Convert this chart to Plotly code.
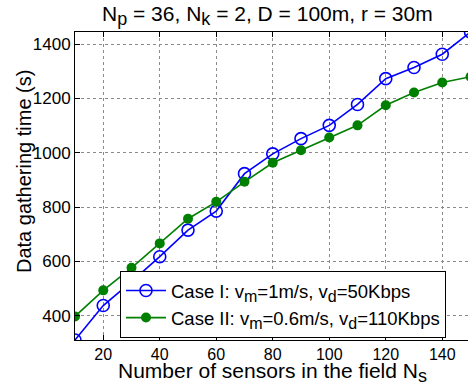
import plotly.graph_objects as go

# Number of sensors in the field
n_sensors = [10, 20, 30, 40, 50, 60, 70, 80, 90, 100, 110, 120, 130, 140, 150]

# Data gathering time (s)
case1_time = [310, 437, 525, 617, 715, 785, 923, 996, 1052, 1101, 1178, 1273, 1314, 1363, 1445]
case2_time = [397, 493, 576, 666, 757, 819, 893, 963, 1009, 1056, 1101, 1175, 1222, 1259, 1280]

x_ticks = [20, 40, 60, 80, 100, 120, 140]
y_ticks = [400, 600, 800, 1000, 1200, 1400]

FONT = "Liberation Sans, Arial, Helvetica, sans-serif"
W, H = 468, 389
ML, MR, MT, MB = 75, 0, 32, 49
PW = W - ML - MR
PH = H - MT - MB
PX_PER_UNIT = 2.825  # horizontal pixels per sensor


def sub(s, size=16):
    return f'<sub><span style="font-size:{size}px">{s}</span></sub>'


case1_name = f"Case I: v{sub('m')}=1m/s, v{sub('d')}=50Kbps"
case2_name = f"Case II: v{sub('m')}=0.6m/s, v{sub('d')}=110Kbps"


def px_x(px):
    return (px - ML) / PW


def px_y(py):
    return (H - MB - py) / PH


fig = go.Figure()
fig.add_trace(go.Scatter(
    x=n_sensors, y=case1_time, name=case1_name, mode="lines+markers",
    line=dict(color="#0000ff", width=1.6),
    marker=dict(symbol="circle-open", size=12, color="#0000ff", line=dict(width=1.6)),
    cliponaxis=True,
))
fig.add_trace(go.Scatter(
    x=n_sensors, y=case2_time, name=case2_name, mode="lines+markers",
    line=dict(color="#008000", width=1.6),
    marker=dict(symbol="circle", size=10, color="#008000"),
    cliponaxis=True,
))

axis_common = dict(
    showline=True, linecolor="black", linewidth=1,
    ticks="inside", ticklen=5, tickcolor="black",
    showgrid=True, gridcolor="#8a8a8a", griddash="dot", gridwidth=1,
    zeroline=False,
)

fig.update_xaxes(
    range=[n_sensors[0], n_sensors[0] + PW / PX_PER_UNIT],
    tickvals=x_ticks, mirror="ticks",
    tickfont=dict(family=FONT, size=16, color="black"),
    **axis_common,
)
fig.update_yaxes(
    range=[min(case1_time), max(case1_time)],
    tickvals=y_ticks, mirror=False,
    tickfont=dict(family=FONT, size=17, color="black"),
    **axis_common,
)

fig.add_annotation(
    text=f"N{sub('p', 18)} = 36, N{sub('k', 18)} = 2, D = 100m, r = 30m",
    xref="paper", yref="paper", x=px_x(267), y=px_y(16),
    xanchor="center", yanchor="middle", showarrow=False,
    font=dict(family=FONT, size=21, color="black"),
)
fig.add_annotation(
    text=f"Number of sensors in the field N{sub('s', 18)}",
    xref="paper", yref="paper", x=px_x(272), y=px_y(372),
    xanchor="center", yanchor="middle", showarrow=False,
    font=dict(family=FONT, size=21, color="black"),
)
fig.add_annotation(
    text="Data gathering time (s)",
    xref="paper", yref="paper", x=px_x(24), y=px_y(172),
    xanchor="center", yanchor="middle", textangle=-90, showarrow=False,
    font=dict(family=FONT, size=20, color="black"),
)

fig.update_layout(
    width=W, height=H,
    margin=dict(l=ML, r=MR, t=MT, b=MB),
    paper_bgcolor="white", plot_bgcolor="white",
    showlegend=True,
    legend=dict(
        x=px_x(120), y=px_y(338), xanchor="left", yanchor="bottom",
        bgcolor="white", bordercolor="black", borderwidth=1,
        font=dict(family=FONT, size=18.5, color="black"),
        tracegroupgap=0, itemwidth=40,
    ),
)

fig.write_html("out.html")
